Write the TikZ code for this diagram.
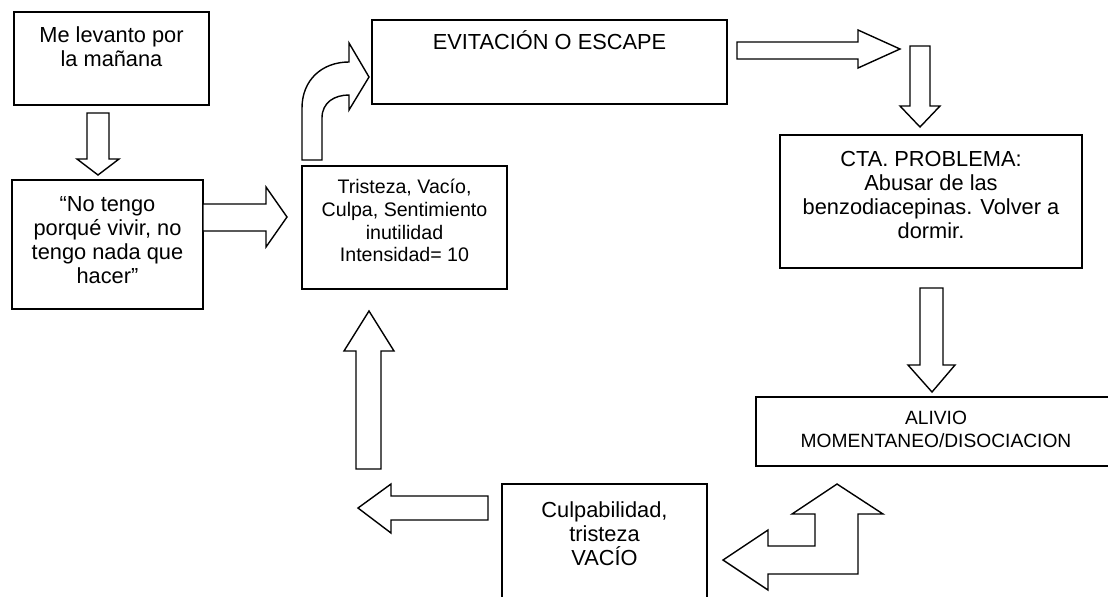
\documentclass[tikz,border=0pt]{standalone}
\usepackage{fontspec}
\setmainfont{Liberation Sans}
\begin{document}
\begin{tikzpicture}[x=0.5pt,y=-0.5pt,
  box/.style={draw, line width=0.9pt, inner sep=0pt},
  txt/.style={align=center, inner sep=0pt, anchor=north, font=\fontsize{10.9}{12}\selectfont},
  flecha/.style={draw, line width=0.7pt, fill=white, line join=miter}]
\useasboundingbox (0,0) rectangle (1108,596);
\clip (0,0) rectangle (1108,596);
% cajas
\node[box, minimum width=97.5pt, minimum height=46.5pt] (levanto) at (111.5,58.5) {};
\node[box, minimum width=95.5pt, minimum height=64.5pt] (notengo) at (107.5,244.5) {};
\node[box, minimum width=102.5pt, minimum height=61.5pt] (tristeza) at (404.5,227.5) {};
\node[box, minimum width=177.5pt, minimum height=42pt] (evitacion) at (549.5,62) {};
\node[box, minimum width=151pt, minimum height=66.5pt] (cta) at (931,201.5) {};
\node[box, minimum width=180pt, minimum height=34.5pt] (alivio) at (936,431.5) {};
\node[box, minimum width=102.5pt, minimum height=68pt] (culpa) at (604.5,552) {};
% textos
\node[txt] (levantotxt) at (111.5,26) {Me levanto por\\la mañana};
\node[txt] (notengotxt) at (107.5,196) {“No tengo\\porqué vivir, no\\tengo nada que\\hacer”};
\node[txt, font=\fontsize{9.8}{11.3}\selectfont] (tristezatxt) at (404.5,179) {Tristeza, Vacío,\\Culpa, Sentimiento\\inutilidad\\Intensidad= 10};
\node[txt, anchor=base] (evitaciontxt) at (549.5,49) {EVITACIÓN O ESCAPE};
\node[txt] (ctatxt) at (931,151) {CTA. PROBLEMA:\\Abusar de las\\benzodiacepinas. Volver a\\dormir.};
\node[txt, font=\fontsize{9.6}{11.2}\selectfont] (aliviotxt) at (936,411) {ALIVIO\\MOMENTANEO/DISOCIACION};
\node[txt] (culpatxt) at (604.5,501) {Culpabilidad,\\tristeza\\VACÍO};
% flechas
\draw[flecha] (87,113) -- (109,113) -- (109,159) -- (119,159) -- (98,175) -- (77,159) -- (87,159) -- cycle;
\draw[flecha] (203,204) -- (266,204) -- (266,187) -- (287,217) -- (266,247) -- (266,231) -- (203,231) -- cycle;
\draw[flecha] (302,160) -- (302,108) .. controls (302,80) and (322,62) .. (349,62) -- (349,43) -- (369,77)
  -- (349,110) -- (349,95) .. controls (335,95) and (322,102) .. (322,118) -- (322,160) -- cycle;
\draw[flecha] (737,42) -- (858,42) -- (858,30) -- (900,49) -- (858,68) -- (858,59) -- (737,59) -- cycle;
\draw[flecha] (910,46) -- (930,46) -- (930,106) -- (940,106) -- (920,127) -- (900,106) -- (910,106) -- cycle;
\draw[flecha] (920,288) -- (943,288) -- (943,365) -- (955,365) -- (932,392) -- (908,365) -- (920,365) -- cycle;
\draw[flecha] (837,484) -- (883,514) -- (858,514) -- (858,574) -- (768,574) -- (768,590) -- (723,560)
  -- (768,530) -- (768,546) -- (815,546) -- (815,514) -- (792,514) -- cycle;
\draw[flecha] (488,496) -- (391,496) -- (391,484) -- (358,508) -- (391,533) -- (391,520) -- (488,520) -- cycle;
\draw[flecha] (356,469) -- (356,351) -- (344,351) -- (369,311) -- (394,351) -- (381,351) -- (381,469) -- cycle;
\end{tikzpicture}
\end{document}
